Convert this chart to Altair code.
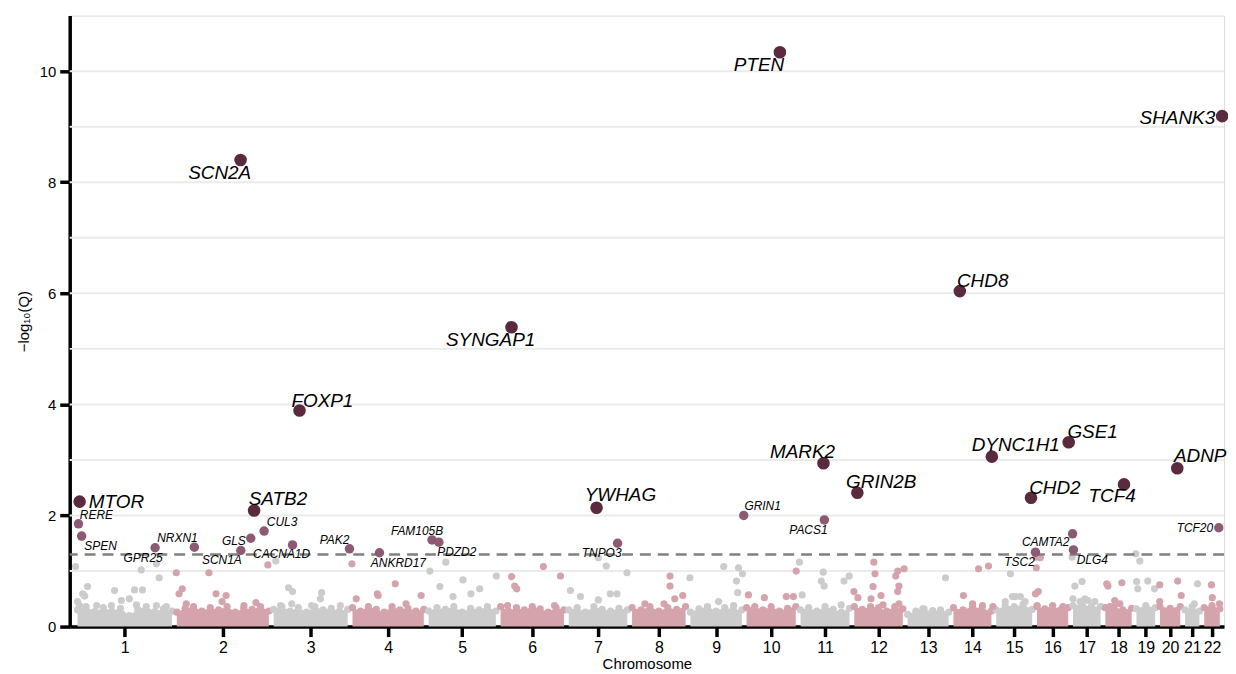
import altair as alt
import pandas as pd
import numpy as np

# ---------------- data ----------------
chrom_len = [249.3, 243.2, 198.0, 191.2, 180.9, 171.1, 159.1, 146.4, 141.2, 135.5, 135.0,
             133.9, 115.2, 107.3, 102.5, 90.4, 81.2, 78.1, 59.1, 63.0, 48.1, 51.3]
chrom_names = [str(i) for i in range(1, 23)]

# strongly associated genes (chromosome, position in Mb, -log10 Q)
big_genes = ["MTOR", "SCN2A", "SATB2", "FOXP1", "SYNGAP1", "YWHAG", "PTEN", "MARK2",
             "GRIN2B", "CHD8", "DYNC1H1", "CHD2", "GSE1", "TCF4", "ADNP", "SHANK3"]
big_chr = [1, 2, 2, 3, 6, 7, 10, 11, 12, 14, 14, 15, 16, 18, 20, 22]
big_mb = [11.2, 166.2, 200.1, 71.0, 33.4, 75.9, 89.6, 63.6, 13.7, 21.9, 102.4, 93.4, 85.6, 52.9, 49.5, 51.1]
big_q = [2.25, 8.40, 2.09, 3.89, 5.39, 2.14, 10.34, 2.94, 2.41, 6.04, 3.06, 2.32, 3.32, 2.56, 2.85, 9.19]

# moderately associated genes
mid_genes = ["RERE", "SPEN", "GPR25", "NRXN1", "GLS", "SCN1A", "CUL3", "CACNA1D", "PAK2",
             "ANKRD17", "FAM105B", "PDZD2", "TNPO3", "GRIN1", "PACS1", "TSC2", "CAMTA2", "DLG4", "TCF20"]
mid_chr = [1, 1, 1, 2, 2, 2, 2, 3, 3, 4, 5, 5, 7, 9, 11, 16, 17, 17, 22]
mid_mb = [8.4, 16.2, 200.8, 50.1, 191.7, 166.8, 225.3, 53.5, 196.5, 73.9, 14.6, 31.8,
          128.6, 140.0, 65.8, 2.1, 4.9, 7.1, 42.6]
mid_q = [1.85, 1.63, 1.42, 1.43, 1.59, 1.37, 1.72, 1.47, 1.40, 1.33, 1.56, 1.52,
         1.50, 2.00, 1.92, 1.34, 1.67, 1.38, 1.78]

# other genes above the dense band (genome position in Mb, -log10 Q)
bg_pos = [1, 31, 19, 11, 99, 116, 54, 91, 166, 204, 211, 149, 169, 154, 204, 229, 6, 24, 136,   # chr1
          254, 269, 261, 336, 354, 379, 279, 454, 369, 424, 484,                          # chr2
          504, 536, 546, 516, 544, 594, 619, 616, 666,                                    # chr3
          695, 706, 759, 761, 804, 831, 869,                                              # chr4
          891, 931, 916, 949, 974, 994, 1016, 1058,                                       # chr5
          1096, 1104, 1109, 1176, 1219, 1086, 1204,                                       # chr6
          1244, 1269, 1314, 1334, 1314, 1344, 1361, 1386,                                 # chr7
          1494, 1494, 1526, 1506, 1431, 1479,                                             # chr8
          1544, 1629, 1666, 1676, 1661, 1664, 1616, 1654,                                 # chr9
          1691, 1731, 1786, 1804, 1811,                                                   # chr10
          1819, 1826, 1879, 1874, 1881, 1924, 1944, 1931,                                 # chr11
          1956, 1966, 2006, 2009, 2004, 1999, 2024, 2029, 2061, 2069, 2066, 2066, 2082, 2069,  # chr12
          2186, 2129, 2154,                                                               # chr13
          2231, 2269, 2294, 2279, 2305, 2254,                                             # chr14
          2349, 2336, 2361, 2354, 2374, 2386,                                             # chr15
          2413, 2424, 2414, 2412, 2416, 2481, 2419,                                       # chr16
          2504, 2511, 2529, 2524, 2506, 2536, 2544, 2561,                                 # chr17
          2594, 2629, 2624, 2599, 2591, 2611,                                             # chr18
          2664, 2674, 2666, 2669, 2694, 2711,                                             # chr19
          2724, 2769, 2778, 2724,                                                         # chr20
          2819, 2811,                                                                     # chr21
          2854, 2856, 2874]                                                               # chr22
bg_q = [1.08, 0.72, 0.59, 0.38, 0.65, 0.47, 0.38, 0.38, 1.02, 1.13, 0.88, 0.66, 0.66, 0.39, 0.38, 0.36, 0.45, 0.55, 0.5,
        0.97, 0.68, 0.59, 0.97, 0.59, 0.56, 0.41, 0.43, 0.45, 0.38, 1.11,
        1.18, 0.70, 0.63, 0.38, 0.41, 0.38, 0.61, 0.50, 0.38,
        1.13, 0.50, 0.59, 0.56, 0.77, 0.41, 0.56,
        1.00, 1.16, 0.72, 0.54, 0.84, 0.59, 0.68, 0.91,
        0.90, 0.73, 0.68, 1.08, 0.91, 0.38, 0.38,
        0.65, 0.54, 1.24, 1.09, 0.48, 0.59, 0.59, 0.97,
        0.91, 0.73, 0.56, 0.50, 0.41, 0.41,
        0.88, 1.08, 1.06, 0.95, 0.82, 0.61, 0.45, 0.38,
        0.57, 0.52, 0.54, 0.54, 1.00,
        1.16, 0.57, 0.98, 0.82, 0.73, 0.39, 0.91, 0.82,
        0.63, 0.52, 1.16, 0.95, 0.72, 0.50, 0.56, 0.39, 0.91, 0.73, 0.63, 1.00, 1.04, 0.41,
        0.88, 0.32, 0.29,
        0.56, 1.04, 1.09, 0.38, 0.36, 0.41,
        0.95, 0.45, 0.54, 0.54, 0.54, 0.45,
        1.25, 1.24, 1.06, 0.59, 0.38, 0.36, 0.63,
        1.25, 0.73, 0.81, 0.45, 0.50, 0.50, 0.47, 0.45,
        0.73, 0.79, 0.41, 0.36, 0.77, 0.47,
        1.31, 1.18, 0.81, 0.68, 0.82, 0.68,
        0.75, 0.82, 0.56, 0.45,
        0.77, 0.41,
        0.75, 0.52, 0.41]

# top of the dense mass of non-significant genes, along each chromosome
band_h = [
    [0.30, 0.36, 0.27, 0.34, 0.28, 0.33, 0.20, 0.31, 0.36, 0.27, 0.32, 0.28],
    [0.26, 0.33, 0.36, 0.28, 0.34, 0.30, 0.36, 0.26, 0.33, 0.31, 0.36, 0.28],
    [0.31, 0.36, 0.28, 0.34, 0.26, 0.36, 0.30, 0.33, 0.28, 0.31],
    [0.34, 0.28, 0.36, 0.31, 0.26, 0.36, 0.30, 0.33, 0.28, 0.31],
    [0.28, 0.34, 0.31, 0.36, 0.26, 0.33, 0.30, 0.36, 0.28],
    [0.36, 0.28, 0.34, 0.30, 0.36, 0.32, 0.26, 0.34, 0.30],
    [0.30, 0.34, 0.26, 0.36, 0.31, 0.28, 0.33, 0.30],
    [0.34, 0.30, 0.36, 0.28, 0.34, 0.31, 0.36],
    [0.26, 0.32, 0.36, 0.28, 0.34, 0.31, 0.30],
    [0.34, 0.36, 0.30, 0.36, 0.28, 0.33, 0.36],
    [0.30, 0.34, 0.28, 0.36, 0.31, 0.26, 0.33],
    [0.36, 0.31, 0.36, 0.34, 0.28, 0.36, 0.32],
    [0.22, 0.28, 0.32, 0.26, 0.30, 0.26],
    [0.34, 0.30, 0.36, 0.32, 0.28],
    [0.30, 0.38, 0.36, 0.40, 0.31],
    [0.36, 0.32, 0.38, 0.30, 0.34],
    [0.38, 0.40, 0.36, 0.36],
    [0.34, 0.36, 0.30, 0.33],
    [0.32, 0.38, 0.34],
    [0.36, 0.33, 0.36],
    [0.30, 0.36, 0.28],
    [0.34, 0.38, 0.32],
]

grid_vals = [1, 2, 3, 4, 5, 6, 7, 8, 9, 10]
threshold = [1.30]

# label offsets in pixels (layout only)
big_dx = [37, -21, 24, 23, -21, 24, -21, -21, 24, 23, 24, 24, 24, -12, 23, -45]
big_dy = [0, 13, -12, -10, 13, -13, 13, -11, -11, -10, -12, -10, -10, 12, -12, 2]
mid_dx = [18, 19, -12, -17, -17, -19, 18, -11, -15, 19, -15, 18, -16, 19, -16, -16, -27, 19, -24]
mid_dy = [-9, 10, 10, -9, 3, 10, -9, 9, -9, 10, -9, 10, 10, -10, 10, 10, 8, 10, 0]

# ---------------- derived tables ----------------
starts = np.concatenate([[0.0], np.cumsum(chrom_len)[:-1]])
ends = np.cumsum(chrom_len)
centers = [round(float(s + l / 2), 2) for s, l in zip(starts, chrom_len)]


def parity(i):
    return "odd" if i % 2 == 0 else "even"


big = pd.DataFrame({"gene": big_genes,
                    "pos": [starts[c - 1] + m for c, m in zip(big_chr, big_mb)],
                    "q": big_q})
mid = pd.DataFrame({"gene": mid_genes,
                    "pos": [starts[c - 1] + m for c, m in zip(mid_chr, mid_mb)],
                    "q": mid_q})
bg_idx = np.searchsorted(ends, np.array(bg_pos, dtype=float), side="right")
bg = pd.DataFrame({"pos": bg_pos, "q": bg_q, "grp": [parity(i) for i in bg_idx]})

band_rows = []
for i, hs in enumerate(band_h):
    xs = np.linspace(starts[i] + 6, ends[i] - 6, len(hs))
    for x, h in zip(xs, hs):
        band_rows.append({"pos": float(x), "q": h, "chrom": i + 1, "grp": parity(i)})
band = pd.DataFrame(band_rows)

grid = pd.DataFrame({"q": grid_vals})
thr = pd.DataFrame({"q": threshold})

# ---------------- chart ----------------
FONT = "Liberation Sans"
xscale = alt.Scale(domain=[-13.7, 2885.5], nice=False, zero=False)
yscale = alt.Scale(domain=[0, 11], nice=False, zero=True)
xaxis = alt.Axis(values=centers,
                 labelExpr="indexof([" + ",".join(str(c) for c in centers) + "], datum.value) + 1",
                 grid=False, domainColor="black", domainWidth=3.5, tickColor="black", tickWidth=3.5,
                 tickSize=10, labelFont=FONT, labelFontSize=16, labelColor="black", labelPadding=3,
                 titleFont=FONT, titleFontSize=15, titleFontWeight="normal", titleColor="black",
                 titlePadding=1, labelFlush=False, labelOverlap=False)
yaxis = alt.Axis(values=[0, 2, 4, 6, 8, 10], format="d", grid=False, domainColor="black",
                 domainWidth=3.5, tickColor="black", tickWidth=3.5, tickSize=10, labelFont=FONT,
                 labelFontSize=15, labelColor="black", labelPadding=4, titleFont=FONT,
                 titleFontSize=15, titleFontWeight="normal", titleColor="black", titlePadding=8)


def X(field="pos"):
    return alt.X(f"{field}:Q", scale=xscale, axis=xaxis, title="Chromosome")


def Y(field="q"):
    return alt.Y(f"{field}:Q", scale=yscale, axis=yaxis, title="−log₁₀(Q)", stack=None)


grp_color = alt.Color("grp:N", scale=alt.Scale(domain=["odd", "even"], range=["#cccccc", "#d4a3ac"]),
                      legend=None)

grid_layer = alt.Chart(grid).mark_rule(color="#ebebeb", strokeWidth=2).encode(y=Y())
band_area = alt.Chart(band).mark_area(opacity=1, interpolate="linear").encode(
    x=X(), y=Y(), detail="chrom:N", color=grp_color)
band_pts = alt.Chart(band).mark_circle(size=52, opacity=1).encode(x=X(), y=Y(), color=grp_color)
bg_pts = alt.Chart(bg).mark_circle(size=52, opacity=1).encode(x=X(), y=Y(), color=grp_color)
thr_layer = alt.Chart(thr).mark_rule(color="#808080", strokeWidth=2.5, strokeDash=[11, 7]).encode(y=Y())
mid_pts = alt.Chart(mid).mark_circle(size=90, opacity=1, color="#8c5a73").encode(x=X(), y=Y())
big_pts = alt.Chart(big).mark_circle(size=160, opacity=1, color="#5a2a3f").encode(x=X(), y=Y())

layers = [grid_layer, band_area, band_pts, bg_pts, thr_layer, mid_pts, big_pts]

for g, dx, dy in zip(big_genes, big_dx, big_dy):
    layers.append(alt.Chart(big).transform_filter(alt.datum.gene == g).mark_text(
        dx=dx, dy=dy, font=FONT, fontSize=19, fontStyle="italic", color="black",
        align="center", baseline="middle").encode(x=X(), y=Y(), text="gene:N"))
for g, dx, dy in zip(mid_genes, mid_dx, mid_dy):
    layers.append(alt.Chart(mid).transform_filter(alt.datum.gene == g).mark_text(
        dx=dx, dy=dy, font=FONT, fontSize=12, fontStyle="italic", color="black",
        align="center", baseline="middle").encode(x=X(), y=Y(), text="gene:N"))

chart = alt.layer(*layers).properties(
    width=1160, height=614,
    autosize=alt.AutoSizeParams(type="none"),
    padding={"left": 62, "top": 6, "right": 4, "bottom": 46},
).configure_view(stroke=None).configure(background="white")

chart.save("out.html", embed_options={"renderer": "svg", "actions": False})
